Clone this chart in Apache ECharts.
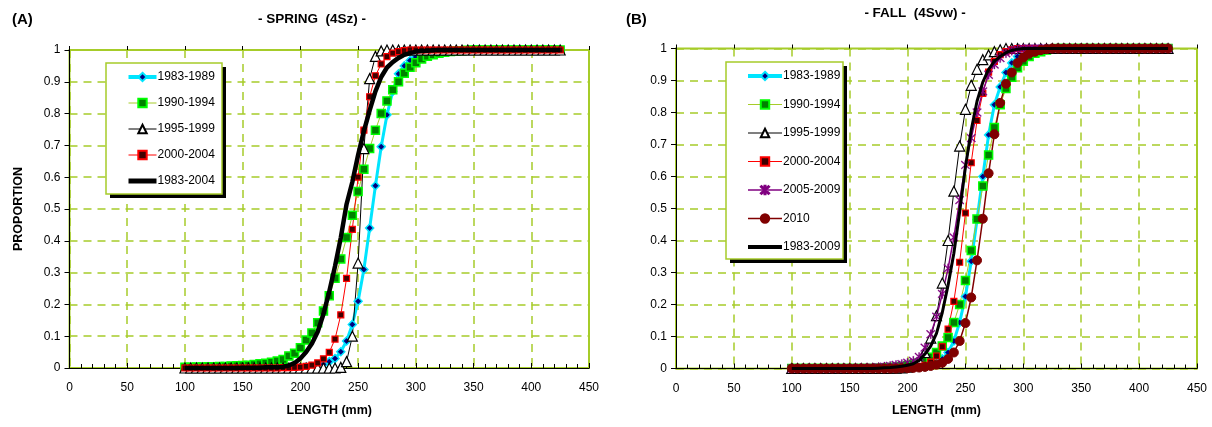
<!DOCTYPE html>
<html>
<head>
<meta charset="utf-8">
<title>Length cumulative proportion</title>
<script src="https://cdn.jsdelivr.net/npm/echarts@6/dist/echarts.min.js"></script>
<style>
  html, body { margin: 0; padding: 0; background: #fff; }
  #main { width: 1212px; height: 427px; }
</style>
</head>
<body>
<div id="main"></div>
<script>
// length classes (mm), one point every 5 mm
var lengths = [100, 105, 110, 115, 120, 125, 130, 135, 140, 145,
  150, 155, 160, 165, 170, 175, 180, 185, 190, 195,
  200, 205, 210, 215, 220, 225, 230, 235, 240, 245,
  250, 255, 260, 265, 270, 275, 280, 285, 290, 295,
  300, 305, 310, 315, 320, 325, 330, 335, 340, 345,
  350, 355, 360, 365, 370, 375, 380, 385, 390, 395,
  400, 405, 410, 415, 420, 425];

var xTicks = [0, 50, 100, 150, 200, 250, 300, 350, 400, 450];
var yTicks = [0, 0.1, 0.2, 0.3, 0.4, 0.5, 0.6, 0.7, 0.8, 0.9, 1];

// (A) spring 4Sz
var spring_8389 = [0, 0, 0, 0, 0, 0, 0, 0, 0, 0,
  0, 0, 0, 0, 0, 0, 0, 0, 0, 0.001,
  0.001, 0.002, 0.004, 0.007, 0.012, 0.02, 0.03, 0.051, 0.085, 0.137,
  0.21, 0.31, 0.44, 0.573, 0.696, 0.796, 0.87, 0.925, 0.95, 0.967,
  0.978, 0.986, 0.992, 0.995, 0.997, 0.998, 0.999, 1, 1, 1,
  1, 1, 1, 1, 1, 1, 1, 1, 1, 1,
  1, 1, 1, 1, 1, 1];
var spring_9094 = [0.002, 0.002, 0.003, 0.003, 0.004, 0.004, 0.005, 0.005, 0.006, 0.007,
  0.008, 0.009, 0.011, 0.013, 0.015, 0.018, 0.022, 0.027, 0.038, 0.046,
  0.064, 0.088, 0.11, 0.142, 0.179, 0.227, 0.282, 0.343, 0.41, 0.48,
  0.555, 0.625, 0.69, 0.748, 0.8, 0.84, 0.875, 0.9, 0.927, 0.946,
  0.96, 0.972, 0.98, 0.985, 0.99, 0.993, 0.995, 0.997, 0.998, 0.999,
  1, 1, 1, 1, 1, 1, 1, 1, 1, 1,
  1, 1, 1, 1, 1, 1];
var spring_9599 = [0, 0, 0, 0, 0, 0, 0, 0, 0, 0,
  0, 0, 0, 0, 0, 0, 0, 0, 0, 0,
  0, 0, 0, 0, 0, 0, 0, 0.002, 0.02, 0.1,
  0.33, 0.69, 0.91, 0.98, 0.997, 1, 1, 1, 1, 1,
  1, 1, 1, 1, 1, 1, 1, 1, 1, 1,
  1, 1, 1, 1, 1, 1, 1, 1, 1, 1,
  1, 1, 1, 1, 1, 1];
var spring_0004 = [0, 0, 0, 0, 0, 0, 0, 0, 0, 0,
  0, 0, 0, 0, 0, 0, 0, 0.001, 0.001, 0.002,
  0.003, 0.005, 0.009, 0.016, 0.029, 0.049, 0.091, 0.167, 0.282, 0.436,
  0.6, 0.748, 0.853, 0.919, 0.956, 0.979, 0.99, 0.995, 0.998, 1,
  1, 1, 1, 1, 1, 1, 1, 1, 1, 1,
  1, 1, 1, 1, 1, 1, 1, 1, 1, 1,
  1, 1, 1, 1, 1, 1];
var spring_all = [0, 0, 0, 0, 0, 0, 0, 0, 0, 0,
  0.001, 0.001, 0.001, 0.001, 0.002, 0.002, 0.002, 0.004, 0.008, 0.016,
  0.03, 0.05, 0.077, 0.114, 0.17, 0.24, 0.32, 0.41, 0.515, 0.585,
  0.67, 0.745, 0.81, 0.87, 0.915, 0.945, 0.962, 0.975, 0.985, 0.99,
  0.995, 0.997, 0.998, 0.999, 1, 1, 1, 1, 1, 1,
  1, 1, 1, 1, 1, 1, 1, 1, 1, 1,
  1, 1, 1, 1, 1, 1];

// (B) fall 4Svw
var fall_8389 = [0, 0, 0, 0, 0, 0, 0, 0, 0, 0,
  0, 0, 0, 0, 0, 0, 0, 0, 0, 0.001,
  0.002, 0.003, 0.004, 0.006, 0.01, 0.015, 0.03, 0.05, 0.086, 0.144,
  0.225, 0.335, 0.465, 0.6, 0.73, 0.824, 0.88, 0.925, 0.955, 0.975,
  0.985, 0.993, 0.997, 0.999, 1, 1, 1, 1, 1, 1,
  1, 1, 1, 1, 1, 1, 1, 1, 1, 1,
  1, 1, 1, 1, 1, 1];
var fall_9094 = [0, 0, 0, 0, 0, 0, 0, 0, 0, 0,
  0, 0, 0, 0, 0, 0.001, 0.002, 0.003, 0.004, 0.006,
  0.009, 0.013, 0.018, 0.025, 0.035, 0.05, 0.07, 0.097, 0.144, 0.2,
  0.275, 0.369, 0.467, 0.57, 0.667, 0.753, 0.824, 0.875, 0.91, 0.94,
  0.96, 0.975, 0.985, 0.99, 0.995, 0.998, 1, 1, 1, 1,
  1, 1, 1, 1, 1, 1, 1, 1, 1, 1,
  1, 1, 1, 1, 1, 1];
var fall_9599 = [0, 0, 0, 0, 0, 0, 0, 0, 0, 0,
  0, 0, 0, 0, 0, 0, 0, 0, 0.001, 0.002,
  0.004, 0.01, 0.024, 0.05, 0.095, 0.165, 0.267, 0.4, 0.554, 0.695,
  0.81, 0.885, 0.935, 0.965, 0.98, 0.99, 0.996, 1, 1, 1,
  1, 1, 1, 1, 1, 1, 1, 1, 1, 1,
  1, 1, 1, 1, 1, 1, 1, 1, 1, 1,
  1, 1, 1, 1, 1, 1];
var fall_0004 = [0, 0, 0, 0, 0, 0, 0, 0, 0, 0,
  0, 0, 0, 0, 0, 0, 0, 0, 0.001, 0.002,
  0.003, 0.004, 0.006, 0.01, 0.02, 0.039, 0.068, 0.123, 0.21, 0.332,
  0.486, 0.643, 0.775, 0.86, 0.926, 0.96, 0.981, 0.99, 0.996, 1,
  1, 1, 1, 1, 1, 1, 1, 1, 1, 1,
  1, 1, 1, 1, 1, 1, 1, 1, 1, 1,
  1, 1, 1, 1, 1, 1];
var fall_0509 = [0, 0, 0, 0, 0, 0, 0, 0, 0, 0.001,
  0.001, 0.001, 0.002, 0.002, 0.003, 0.004, 0.006, 0.008, 0.011, 0.014,
  0.018, 0.024, 0.036, 0.065, 0.107, 0.162, 0.233, 0.313, 0.41, 0.526,
  0.636, 0.72, 0.8, 0.866, 0.918, 0.95, 0.97, 0.985, 0.993, 0.997,
  1, 1, 1, 1, 1, 1, 1, 1, 1, 1,
  1, 1, 1, 1, 1, 1, 1, 1, 1, 1,
  1, 1, 1, 1, 1, 1];
var fall_2010 = [0, 0, 0, 0, 0, 0, 0, 0, 0, 0,
  0, 0, 0, 0, 0, 0, 0, 0, 0, 0.001,
  0.001, 0.002, 0.003, 0.005, 0.008, 0.012, 0.018, 0.03, 0.05, 0.086,
  0.142, 0.222, 0.338, 0.468, 0.61, 0.732, 0.83, 0.89, 0.925, 0.955,
  0.972, 0.984, 0.99, 0.995, 0.998, 1, 1, 1, 1, 1,
  1, 1, 1, 1, 1, 1, 1, 1, 1, 1,
  1, 1, 1, 1, 1, 1];
var fall_all = [0, 0, 0, 0, 0, 0, 0, 0, 0, 0,
  0, 0, 0, 0, 0, 0.001, 0.002, 0.003, 0.005, 0.007,
  0.01, 0.015, 0.025, 0.045, 0.07, 0.11, 0.175, 0.26, 0.36, 0.49,
  0.63, 0.745, 0.835, 0.895, 0.935, 0.96, 0.975, 0.987, 0.994, 0.998,
  1, 1, 1, 1, 1, 1, 1, 1, 1, 1,
  1, 1, 1, 1, 1, 1, 1, 1, 1, 1,
  1, 1, 1, 1, 1, 1];

var gridGreen = '#a6cc2a';
var font = "'Liberation Sans', Arial, sans-serif";
var asterisk = 'path://M4.4,0 L5.6,0 L5.6,10 L4.4,10 Z M0.4,1.2 L1.2,0.4 L9.6,8.8 L8.8,9.6 Z M8.8,0.4 L9.6,1.2 L1.2,9.6 L0.4,8.8 Z';

function pairs(values) {
  return lengths.map(function (l, i) { return [l, values[i]]; });
}

// marker / line look of each period, same as in the excel sheet
function line(name, values, idx, look) {
  return {
    name: name,
    type: 'line',
    xAxisIndex: idx * 2,
    yAxisIndex: idx,
    data: pairs(values),
    clip: false,
    showSymbol: look.symbol !== 'none',
    symbol: look.symbol,
    symbolSize: look.size,
    lineStyle: { color: look.line, width: look.width },
    itemStyle: {
      color: look.fill,
      borderColor: look.border,
      borderWidth: look.borderWidth || 1
    },
    emphasis: { disabled: true },
    z: look.z || 2
  };
}

var looks = {
  p8389: { symbol: 'diamond', size: 8, line: '#00e5ff', width: 3, fill: '#000080', border: '#00e5ff', borderWidth: 1.5 },
  p9094: { symbol: 'rect', size: 8, line: '#a6cc2a', width: 1, fill: '#008000', border: '#00ff00', borderWidth: 1.5 },
  p9599: { symbol: 'triangle', size: 10, line: '#000', width: 1, fill: '#fff', border: '#000', borderWidth: 1.2 },
  p0004: { symbol: 'rect', size: 6, line: '#ff0000', width: 1, fill: '#400000', border: '#ff0000', borderWidth: 1.2 },
  p0509: { symbol: asterisk, size: 9, line: '#800080', width: 1.5, fill: '#800080', border: '#800080', borderWidth: 0.3 },
  p2010: { symbol: 'circle', size: 9, line: '#800000', width: 1.5, fill: '#800000', border: '#800000', borderWidth: 1 },
  allA: { symbol: 'none', size: 0, line: '#000', width: 4.5, fill: '#000', border: '#000', z: 3 },
  allB: { symbol: 'none', size: 0, line: '#000', width: 3, fill: '#000', border: '#000', z: 3 }
};

function xAxes(idx, name) {
  var main = {
    gridIndex: idx,
    type: 'value',
    min: xTicks[0],
    max: xTicks[xTicks.length - 1],
    interval: 50,
    name: name,
    nameLocation: 'middle',
    nameGap: 36,
    nameTextStyle: { color: '#000', fontWeight: 'bold', fontSize: 12.5, fontFamily: font },
    axisLine: { show: true, onZero: false, lineStyle: { color: '#000', width: 1 } },
    axisTick: { show: true, inside: true, length: 5, lineStyle: { color: '#000' } },
    minorTick: { show: true, splitNumber: 5, length: 4, lineStyle: { color: '#000' } },
    axisLabel: { color: '#000', fontSize: 12, margin: 14, fontFamily: font },
    splitLine: { show: true, lineStyle: { color: gridGreen, width: 1.5, type: [8, 6] } }
  };
  // second copy only for the outer half of the major ticks
  var outer = {
    gridIndex: idx,
    type: 'value',
    min: xTicks[0],
    max: xTicks[xTicks.length - 1],
    interval: 50,
    axisLine: { show: false, onZero: false },
    axisTick: { show: true, inside: false, length: 4, lineStyle: { color: '#000' } },
    axisLabel: { show: false },
    splitLine: { show: false }
  };
  return [main, outer];
}

function yAxis(idx, name) {
  return {
    gridIndex: idx,
    type: 'value',
    min: yTicks[0],
    max: yTicks[yTicks.length - 1],
    interval: 0.1,
    name: name,
    nameLocation: 'middle',
    nameGap: 44,
    nameRotate: 90,
    nameTextStyle: { color: '#000', fontWeight: 'bold', fontSize: 12.5, fontFamily: font },
    axisLine: { show: true, lineStyle: { color: '#000', width: 1 } },
    axisTick: { show: true, inside: false, length: 5, lineStyle: { color: '#000' } },
    axisLabel: { color: '#000', fontSize: 12, margin: 9, fontFamily: font },
    splitLine: { show: true, lineStyle: { color: gridGreen, width: 1.5, type: [8, 6] } }
  };
}

// legend line widths (legend caps them at 2 otherwise)
var legendWidths = {
  '1983-1989': 4, '1990-1994': 1, '1995-1999': 1, '2000-2004': 1,
  '2005-2009': 1.5, '2010': 1.5, '1983-2004': 5, '1983-2009': 4
};

// legend items only, the framed box is drawn in graphic below
function legend(names, left, top, gap, lineLen) {
  return {
    data: names.map(function (n) {
      var item = { name: n, lineStyle: { width: legendWidths[n] } };
      // combined curves have no marker
      if (n === '1983-2004' || n === '1983-2009') item.itemStyle = { opacity: 0 };
      return item;
    }),
    orient: 'vertical',
    left: left,
    top: top,
    itemWidth: lineLen,
    itemHeight: 10.5,
    itemGap: gap,
    padding: [8, 4, 6, 20],
    selectedMode: false,
    textStyle: { color: '#000', fontSize: 12, fontFamily: font, padding: [0, 0, 0, -4] },
    z: 5
  };
}

function legendBox(x, y, w, h) {
  return [
    { type: 'rect', z: 3, shape: { x: x + 4, y: y + 4, width: w, height: h }, style: { fill: '#000' } },
    { type: 'rect', z: 3, shape: { x: x, y: y, width: w, height: h }, style: { fill: '#fff', stroke: gridGreen, lineWidth: 1.5 } }
  ];
}

var chart = echarts.init(document.getElementById('main'), null, { renderer: 'canvas' });

var option = {
  animation: false,
  backgroundColor: '#fff',
  textStyle: { fontFamily: font },
  title: [
    { text: '(A)', left: 12, top: 12, padding: 0, textStyle: { fontSize: 15, fontWeight: 'bold', color: '#000', fontFamily: font } },
    { text: '- SPRING  (4Sz) -', left: 312, top: 12, padding: 0, textAlign: 'center', textStyle: { fontSize: 13.5, fontWeight: 'bold', color: '#000', fontFamily: font } },
    { text: '(B)', left: 626, top: 12, padding: 0, textStyle: { fontSize: 15, fontWeight: 'bold', color: '#000', fontFamily: font } },
    { text: '- FALL  (4Svw) -', left: 915, top: 6, padding: 0, textAlign: 'center', textStyle: { fontSize: 13.5, fontWeight: 'bold', color: '#000', fontFamily: font } }
  ],
  legend: [
    legend(['1983-1989', '1990-1994', '1995-1999', '2000-2004', '1983-2004'], 106, 63, 14, 28),
    legend(['1983-1989', '1990-1994', '1995-1999', '2000-2004', '2005-2009', '2010', '1983-2009'], 726, 62, 16.5, 34)
  ],
  graphic: legendBox(106, 63, 116, 131).concat(legendBox(726, 62, 117, 197)),
  grid: [
    { left: 69.5, top: 50, width: 519.5, height: 318, show: true, borderColor: gridGreen, borderWidth: 2, backgroundColor: 'transparent' },
    { left: 676, top: 48.5, width: 521, height: 320, show: true, borderColor: gridGreen, borderWidth: 2, backgroundColor: 'transparent' }
  ],
  xAxis: xAxes(0, 'LENGTH (mm)').concat(xAxes(1, 'LENGTH  (mm)')),
  yAxis: [yAxis(0, 'PROPORTION'), yAxis(1, '')],
  series: [
    line('1983-1989', spring_8389, 0, looks.p8389),
    line('1990-1994', spring_9094, 0, looks.p9094),
    line('1995-1999', spring_9599, 0, looks.p9599),
    line('2000-2004', spring_0004, 0, looks.p0004),
    line('1983-2004', spring_all, 0, looks.allA),

    line('1983-1989', fall_8389, 1, looks.p8389),
    line('1990-1994', fall_9094, 1, looks.p9094),
    line('1995-1999', fall_9599, 1, looks.p9599),
    line('2000-2004', fall_0004, 1, looks.p0004),
    line('2005-2009', fall_0509, 1, looks.p0509),
    line('2010', fall_2010, 1, looks.p2010),
    line('1983-2009', fall_all, 1, looks.allB)
  ]
};

chart.setOption(option);
</script>
</body>
</html>
